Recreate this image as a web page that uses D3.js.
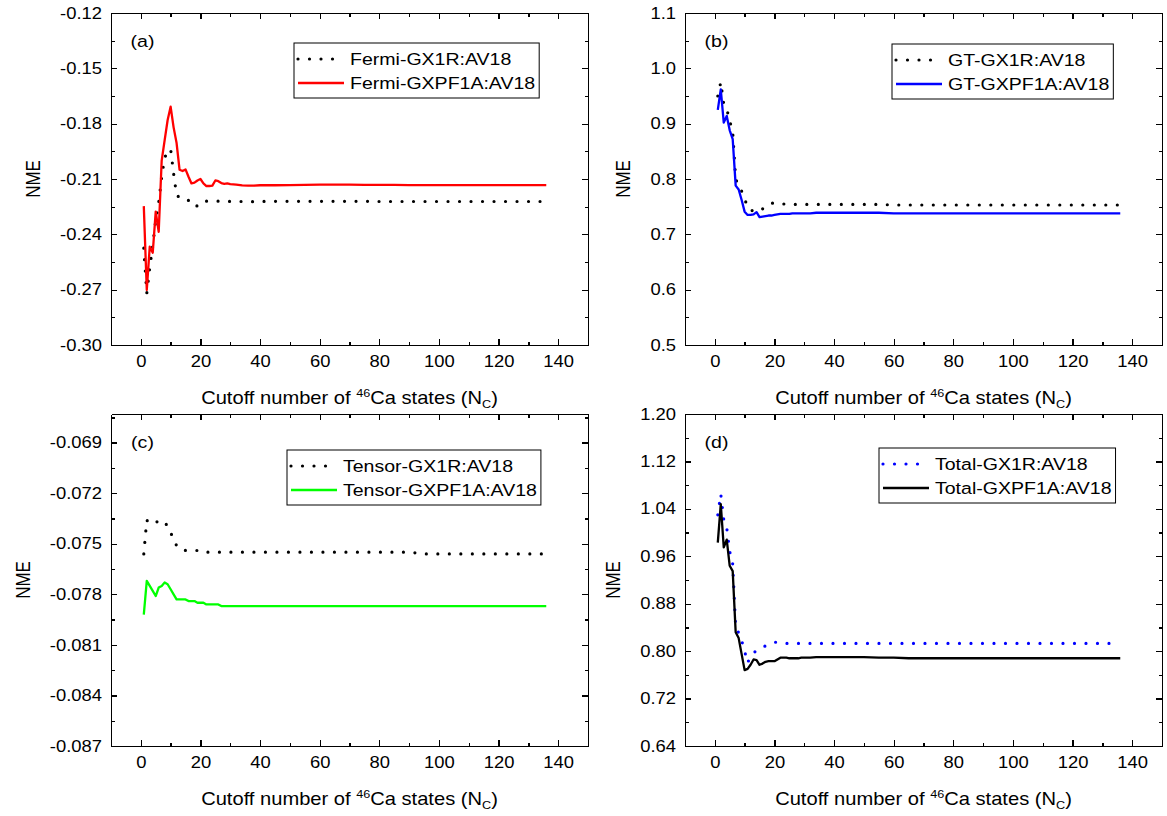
<!DOCTYPE html>
<html>
<head>
<meta charset="utf-8">
<script src="https://cdnjs.cloudflare.com/ajax/libs/d3/7.8.5/d3.min.js"></script>
<style>
body { margin: 0; background: #fff; }
svg text { font-family: "Liberation Sans", Arial, sans-serif; fill: #000; }
.axis path, .axis line { stroke: #000; stroke-width: 1.3; shape-rendering: crispEdges; }
</style>
</head>
<body>
<div id="chart"></div>
<script>
// Cutoff numbers of 46Ca states (shared by all series)
var nc = [1,2,3,4,5,6,7,8,9,10,11,12,13,14,15,16,17,18,19,20,21,22,23,24,25,26,27,28,29,30,
          32,34,36,38,40,45,50,55,60,65,70,75,80,85,90,95,100,105,110,115,120,125,130,135,136];

// (a) Fermi
var fermiGX1R = [-0.2475,-0.2720,-0.2580,-0.2462,-0.2323,-0.2229,-0.2088,-0.1983,-0.1955,-0.1937,
  -0.2070,-0.2187,-0.2201,-0.2214,-0.2214,-0.2216,-0.2240,-0.2250,-0.2245,-0.2225,
  -0.2222,-0.2220,-0.2220,-0.2221,-0.2221,-0.2220,-0.2220,-0.2221,-0.2221,-0.2222,
  -0.2222,-0.2222,-0.2223,-0.2223,-0.2222,
  -0.2221,-0.2221,-0.2221,-0.2221,-0.2221,-0.2221,-0.2221,-0.2222,-0.2222,-0.2222,-0.2222,-0.2222,-0.2222,-0.2222,-0.2222,-0.2222,-0.2222,-0.2222,-0.2222,
  -0.2222];
var fermiGXPF1A = [-0.2247,-0.2702,-0.2467,-0.2500,-0.2277,-0.2386,-0.2000,-0.1889,-0.1780,-0.1708,
  -0.1820,-0.1905,-0.2050,-0.2057,-0.2048,-0.2088,-0.2124,-0.2120,-0.2108,-0.2100,
  -0.2124,-0.2138,-0.2138,-0.2136,-0.2108,-0.2112,-0.2122,-0.2126,-0.2124,-0.2128,
  -0.2130,-0.2135,-0.2136,-0.2136,-0.2134,
  -0.2134,-0.2133,-0.2132,-0.2131,-0.2131,-0.2131,-0.2132,-0.2132,-0.2132,-0.2133,-0.2133,-0.2133,-0.2133,-0.2133,-0.2133,-0.2133,-0.2133,-0.2133,-0.2133,
  -0.2133];

// (b) GT
var gtGX1R = [0.950,0.975,0.935,0.927,0.905,0.885,0.800,0.788,0.778,0.765,
  0.748,0.744,0.742,0.741,0.742,0.746,0.750,0.754,0.756,0.757,
  0.756,0.755,0.755,0.754,0.754,0.754,0.754,0.754,0.754,0.754,
  0.754,0.754,0.754,0.754,0.754,
  0.754,0.754,0.754,0.753,0.753,0.753,0.753,0.753,0.753,0.753,0.753,0.753,0.753,0.753,0.753,0.753,0.753,0.753,0.753,
  0.753];
var gtGXPF1A = [0.925,0.962,0.902,0.914,0.888,0.872,0.788,0.781,0.762,0.741,
  0.735,0.735,0.736,0.740,0.731,0.732,0.733,0.734,0.734,0.735,
  0.736,0.737,0.737,0.737,0.737,0.738,0.738,0.738,0.738,0.738,
  0.738,0.739,0.739,0.739,0.739,
  0.739,0.739,0.739,0.738,0.738,0.738,0.738,0.738,0.738,0.738,0.738,0.738,0.738,0.738,0.738,0.738,0.738,0.738,0.738,
  0.738];

// (c) Tensor
var tensorGX1R = [-0.0756,-0.0736,-0.0738,-0.0738,-0.0737,-0.0737,-0.0736,-0.0738,-0.0739,-0.0743,
  -0.0748,-0.0751,-0.0753,-0.0753,-0.0754,-0.0754,-0.0754,-0.0754,-0.0754,-0.0754,
  -0.0754,-0.0755,-0.0755,-0.0755,-0.0755,-0.0755,-0.0755,-0.0755,-0.0755,-0.0755,
  -0.0755,-0.0755,-0.0755,-0.0755,-0.0755,
  -0.0755,-0.0755,-0.0755,-0.0755,-0.0755,-0.0755,-0.0755,-0.0755,-0.0755,-0.0755,-0.0756,-0.0756,-0.0756,-0.0756,-0.0756,-0.0756,-0.0756,-0.0756,-0.0756,
  -0.0756];
var tensorGXPF1A = [-0.0792,-0.0772,-0.0775,-0.0778,-0.0781,-0.0776,-0.0775,-0.0773,-0.0774,-0.0777,
  -0.0780,-0.0783,-0.0783,-0.0783,-0.0783,-0.0784,-0.0784,-0.0784,-0.0785,-0.0785,
  -0.0785,-0.0786,-0.0786,-0.0786,-0.0786,-0.0786,-0.0787,-0.0787,-0.0787,-0.0787,
  -0.0787,-0.0787,-0.0787,-0.0787,-0.0787,
  -0.0787,-0.0787,-0.0787,-0.0787,-0.0787,-0.0787,-0.0787,-0.0787,-0.0787,-0.0787,-0.0787,-0.0787,-0.0787,-0.0787,-0.0787,-0.0787,-0.0787,-0.0787,-0.0787,
  -0.0787];

// (d) Total
var totalGX1R = [1.030,1.065,1.022,1.008,0.968,0.947,0.840,0.831,0.818,0.800,
  0.780,0.792,0.797,0.801,0.803,0.806,0.809,0.811,0.813,0.815,
  0.815,0.814,0.814,0.813,0.813,0.813,0.813,0.813,0.813,0.813,
  0.813,0.813,0.813,0.813,0.813,
  0.813,0.813,0.813,0.813,0.813,0.813,0.813,0.813,0.813,0.813,0.813,0.813,0.813,0.813,0.813,0.813,0.813,0.813,0.813,
  0.813];
var totalGXPF1A = [0.983,1.048,0.975,0.988,0.944,0.935,0.832,0.822,0.795,0.768,
  0.770,0.777,0.786,0.785,0.777,0.779,0.782,0.783,0.783,0.783,
  0.786,0.789,0.789,0.789,0.788,0.788,0.788,0.788,0.789,0.789,
  0.789,0.790,0.790,0.790,0.790,
  0.790,0.790,0.789,0.789,0.788,0.788,0.788,0.788,0.788,0.788,0.788,0.788,0.788,0.788,0.788,0.788,0.788,0.788,0.788,
  0.788];

// ticks
var xTicks = [0,20,40,60,80,100,120,140];
var xMinor = [10,30,50,70,90,110,130];
var yTicksA = [-0.30,-0.27,-0.24,-0.21,-0.18,-0.15,-0.12];
var yMinorA = [-0.285,-0.255,-0.225,-0.195,-0.165,-0.135];
var yTicksB = [0.5,0.6,0.7,0.8,0.9,1.0,1.1];
var yMinorB = [0.55,0.65,0.75,0.85,0.95,1.05];
var yTicksC = [-0.087,-0.084,-0.081,-0.078,-0.075,-0.072,-0.069];
var yMinorC = [-0.0855,-0.0825,-0.0795,-0.0765,-0.0735,-0.0705,-0.0675];
var yTicksD = [0.64,0.72,0.80,0.88,0.96,1.04,1.12,1.20];
var yMinorD = [0.68,0.76,0.84,0.92,1.00,1.08,1.16];

var SX = 1.15;           // horizontal stretch of the original export
var panelW = 477, panelH = 332;
var xDomain = [-10, 150];

var panels = [
  { tag: '(a)', left: 111, top: 13, yDomain: [-0.30, -0.12], yTicks: yTicksA, yMinor: yMinorA, fmt: 2,
    legend: [183, 30],
    series: [ { name: 'Fermi-GX1R:AV18', values: fermiGX1R, color: '#000', dotted: true },
              { name: 'Fermi-GXPF1A:AV18', values: fermiGXPF1A, color: '#ff0000' } ] },
  { tag: '(b)', left: 685, top: 13, yDomain: [0.5, 1.1], yTicks: yTicksB, yMinor: yMinorB, fmt: 1,
    legend: [207, 31],
    series: [ { name: 'GT-GX1R:AV18', values: gtGX1R, color: '#000', dotted: true },
              { name: 'GT-GXPF1A:AV18', values: gtGXPF1A, color: '#0000ff' } ] },
  { tag: '(c)', left: 111, top: 414, yDomain: [-0.087, -0.0673], yTicks: yTicksC, yMinor: yMinorC, fmt: 3,
    legend: [176, 36],
    series: [ { name: 'Tensor-GX1R:AV18', values: tensorGX1R, color: '#000', dotted: true },
              { name: 'Tensor-GXPF1A:AV18', values: tensorGXPF1A, color: '#00ff00' } ] },
  { tag: '(d)', left: 685, top: 414, yDomain: [0.64, 1.20], yTicks: yTicksD, yMinor: yMinorD, fmt: 2,
    legend: [194, 34],
    series: [ { name: 'Total-GX1R:AV18', values: totalGX1R, color: '#0000ff', dotted: true },
              { name: 'Total-GXPF1A:AV18', values: totalGXPF1A, color: '#000' } ] }
];

var svg = d3.select('#chart').append('svg')
    .attr('width', 1167)
    .attr('height', 816);

var styleSeries = function(sel, s) {
    sel.attr('fill', 'none')
        .attr('stroke', s.color)
        .attr('stroke-linejoin', 'round');
    if (s.dotted) {
        sel.attr('stroke-width', 3.2)
            .attr('stroke-linecap', 'round')
            .attr('stroke-dasharray', '0,11.5');
    } else {
        sel.attr('stroke-width', 2.3);
    }
};

panels.forEach(function(p) {
    var x = d3.scaleLinear().domain(xDomain).range([0, panelW]);
    var y = d3.scaleLinear().domain(p.yDomain).range([panelH, 0]);

    var g = svg.append('g')
        .attr('transform', 'translate(' + p.left + ',' + p.top + ')');

    // lines
    var line = d3.line()
        .x(function(d) { return x(d[0]); })
        .y(function(d) { return y(d[1]); });

    p.series.forEach(function(s) {
        var pts = nc.map(function(n, i) { return [n, s.values[i]]; });
        g.append('path').datum(pts).attr('d', line).call(styleSeries, s);
    });

    // axes: major + minor ticks on all four sides, all pointing inward
    var bottom = g.append('g').attr('class', 'axis')
        .attr('transform', 'translate(0,' + panelH + ')')
        .call(d3.axisBottom(x).tickValues(xTicks).tickSizeInner(-6).tickSizeOuter(0)
            .tickPadding(11).tickFormat(function(d) { return d; }));
    bottom.selectAll('text').attr('font-size', 16).attr('transform', 'scale(' + SX + ',1)');
    g.append('g').attr('class', 'axis')
        .attr('transform', 'translate(0,' + panelH + ')')
        .call(d3.axisBottom(x).tickValues(xMinor).tickSizeInner(-3.5).tickSizeOuter(0).tickFormat(''));

    g.append('g').attr('class', 'axis')
        .call(d3.axisTop(x).tickValues(xTicks).tickSizeInner(-6).tickSizeOuter(0).tickFormat(''));
    g.append('g').attr('class', 'axis')
        .call(d3.axisTop(x).tickValues(xMinor).tickSizeInner(-3.5).tickSizeOuter(0).tickFormat(''));

    var left = g.append('g').attr('class', 'axis')
        .call(d3.axisLeft(y).tickValues(p.yTicks).tickSizeInner(-6).tickSizeOuter(0)
            .tickPadding(9).tickFormat(function(d) { return d.toFixed(p.fmt); }));
    left.selectAll('text').attr('font-size', 16).attr('x', 0)
        .attr('transform', 'translate(-9,0) scale(' + SX + ',1)');
    g.append('g').attr('class', 'axis')
        .call(d3.axisLeft(y).tickValues(p.yMinor).tickSizeInner(-3.5).tickSizeOuter(0).tickFormat(''));

    g.append('g').attr('class', 'axis')
        .attr('transform', 'translate(' + panelW + ',0)')
        .call(d3.axisRight(y).tickValues(p.yTicks).tickSizeInner(-6).tickSizeOuter(0).tickFormat(''));
    g.append('g').attr('class', 'axis')
        .attr('transform', 'translate(' + panelW + ',0)')
        .call(d3.axisRight(y).tickValues(p.yMinor).tickSizeInner(-3.5).tickSizeOuter(0).tickFormat(''));

    // y title, placed left of the widest tick label
    var maxW = 0;
    left.selectAll('text').each(function() {
        maxW = Math.max(maxW, this.getComputedTextLength() * SX);
    });
    g.append('text')
        .attr('transform', 'translate(' + (-9 - maxW - 20) + ',' + (panelH / 2) + ') scale(' + SX + ',1) rotate(-90)')
        .attr('text-anchor', 'middle')
        .attr('font-size', 17)
        .text('NME');

    // x title with superscript / subscript
    var xt = g.append('text')
        .attr('transform', 'translate(' + (panelW / 2) + ',' + (panelH + 59) + ') scale(' + SX + ',1)')
        .attr('text-anchor', 'middle')
        .attr('font-size', 17.5);
    xt.append('tspan').text('Cutoff number of ');
    xt.append('tspan').attr('font-size', 11).attr('dy', -7).text('46');
    xt.append('tspan').attr('dy', 7).text('Ca states (N');
    xt.append('tspan').attr('font-size', 11).attr('dy', 4).text('C');
    xt.append('tspan').attr('dy', -4).text(')');

    // panel tag
    g.append('text')
        .attr('transform', 'translate(31.5,34) scale(' + SX + ',1)')
        .attr('text-anchor', 'middle')
        .attr('font-size', 17)
        .text(p.tag);

    // legend
    var lg = g.append('g').attr('transform', 'translate(' + p.legend[0] + ',' + p.legend[1] + ')');
    var box = lg.append('rect').attr('fill', '#fff').attr('stroke', '#000').attr('stroke-width', 1);
    var textW = 0;
    p.series.forEach(function(s, i) {
        var ry = 16 + i * 24;
        lg.append('line')
            .attr('x1', 4).attr('x2', 50).attr('y1', ry).attr('y2', ry)
            .call(styleSeries, s);
        var t = lg.append('text')
            .attr('transform', 'translate(56,' + (ry + 6) + ') scale(' + SX + ',1)')
            .attr('font-size', 17)
            .text(s.name);
        textW = Math.max(textW, t.node().getComputedTextLength() * SX);
    });
    box.attr('x', 0).attr('y', 0).attr('width', 56 + textW + 4).attr('height', 55);
    lg.selectAll('line').raise();
    lg.selectAll('text').raise();
});
</script>
</body>
</html>
